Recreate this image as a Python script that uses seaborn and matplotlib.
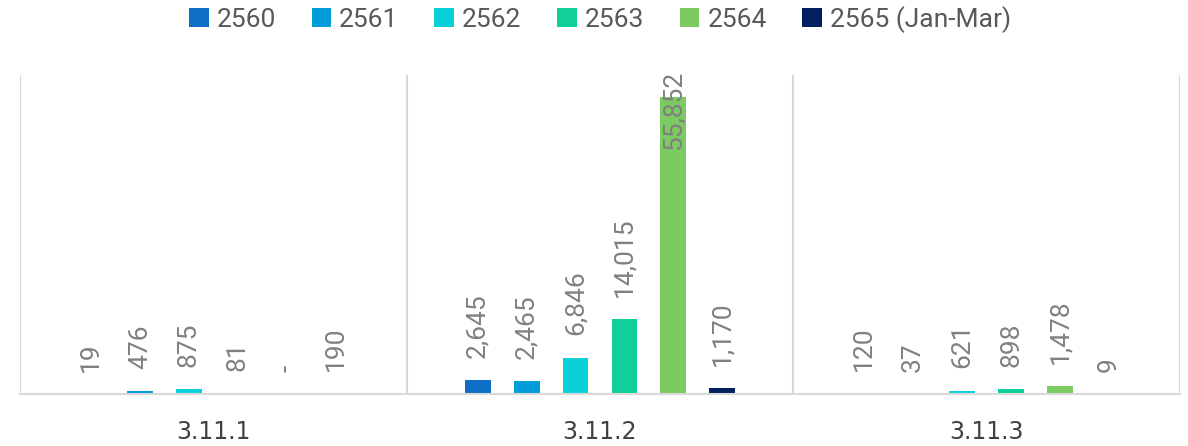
import pandas as pd
import numpy as np
import matplotlib
matplotlib.use('Agg')
import matplotlib.pyplot as plt
import matplotlib.transforms as mtransforms
import seaborn as sns

categories = ['3.11.1', '3.11.2', '3.11.3']
years = ['2560', '2561', '2562', '2563', '2564', '2565 (Jan-Mar)']
values_2560 = [19, 2645, 120]
values_2561 = [476, 2465, 37]
values_2562 = [875, 6846, 621]
values_2563 = [81, 14015, 898]
values_2564 = [0, 55852, 1478]
values_2565 = [190, 1170, 9]
colors = ['#0F6FC6', '#009DD9', '#0BD0D9', '#10CF9B', '#7CCA62', '#002060']

series = [values_2560, values_2561, values_2562, values_2563, values_2564, values_2565]
rows = []
for year, vals in zip(years, series):
    for cat, v in zip(categories, vals):
        rows.append({'category': cat, 'year': year, 'value': v})
df = pd.DataFrame(rows)

sns.set_style('white')
plt.rcParams['font.family'] = ['Roboto', 'DejaVu Sans']

fig = plt.figure(figsize=(11.88, 4.46), dpi=100)
ax = fig.add_axes([20 / 1188, 52 / 446, 1160 / 1188, 319 / 446])

sns.barplot(data=df, x='category', y='value', hue='year', palette=colors,
            width=0.76, gap=0.47, order=categories, hue_order=years, ax=ax,
            saturation=1, edgecolor='none', linewidth=0)

ymax = 60000
ax.set_ylim(0, ymax)
ax.set_xlim(-0.5, len(categories) - 0.5)

# separators between groups
for xb in np.arange(-0.5, len(categories), 1.0):
    ax.axvline(xb, color='#D9D9D9', lw=1.5, zorder=0)

for spine in ['top', 'right', 'left']:
    ax.spines[spine].set_visible(False)
ax.spines['bottom'].set_color('#D9D9D9')
ax.spines['bottom'].set_linewidth(1.5)
ax.set_yticks([])
ax.set_xlabel('')
ax.set_ylabel('')
ax.tick_params(axis='x', length=0, pad=19, labelsize=17, labelcolor='#404040')
for t in ax.get_xticklabels():
    t.set_family('DejaVu Sans')

# data labels
blend = mtransforms.blended_transform_factory(ax.transData, ax.transAxes)
for container, vals in zip(ax.containers, series):
    for patch, v in zip(container.patches, vals):
        xc = patch.get_x() + patch.get_width() / 2
        label = f'{v:,}' if v != 0 else '-'
        if v / ymax > 0.8:
            ax.text(xc, 1.012, label, transform=blend, rotation=90,
                    ha='center', va='top', fontsize=19, color='#808080')
        else:
            ax.annotate(label, (xc, v), xytext=(0, 16), textcoords='offset points',
                        rotation=90, ha='center', va='bottom', fontsize=19,
                        color='#808080')

sns.move_legend(ax, 'center', bbox_to_anchor=(0.5, 1.175), ncol=6,
                frameon=False, title=None, fontsize=19, handlelength=0.75,
                handleheight=0.75, handletextpad=0.3, columnspacing=1.35,
                labelcolor='#595959')

fig.savefig('out.png', dpi=100)
